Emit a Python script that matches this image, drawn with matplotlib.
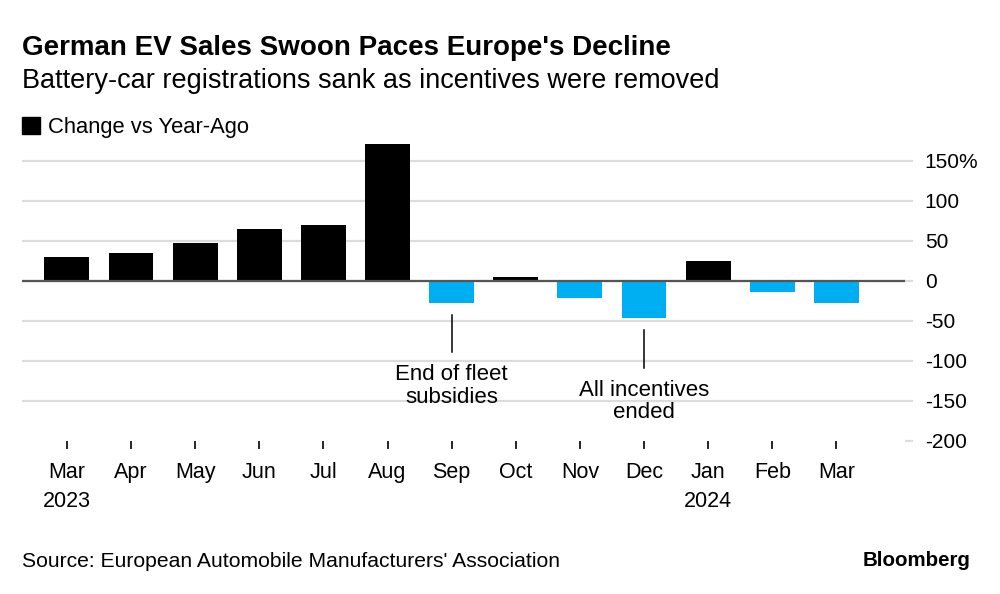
import matplotlib.pyplot as plt

plt.rcParams['font.family'] = ['Liberation Sans', 'DejaVu Sans']

# data
months = ['Mar\n2023', 'Apr', 'May', 'Jun', 'Jul', 'Aug', 'Sep', 'Oct',
          'Nov', 'Dec', 'Jan\n2024', 'Feb', 'Mar']
change = [29, 35, 47, 65, 69, 171, -27.5, 5, -22, -47, 24, -14.5, -28]
y_ticks = [-200, -150, -100, -50, 0, 50, 100, 150]
y_labels = ['-200', '-150', '-100', '-50', '0', '50', '100', '150%']

pos_color = '#000000'
neg_color = '#00aef2'
grid_color = '#dcdcdc'

fig = plt.figure(figsize=(10, 5.94), dpi=100)
ax = fig.add_axes([0.022, 0.2581, 0.883, 0.5118])

x = list(range(len(months)))
colors = [pos_color if v >= 0 else neg_color for v in change]
ax.bar(x, change, width=0.7, color=colors, zorder=3)

ax.set_xlim(-0.7, 13.07)
ax.set_ylim(-200, 180)

# grid + zero line
for t in y_ticks:
    if t == -200:
        continue
    ax.axhline(t, color=grid_color, lw=1.6, zorder=1)
ax.axhline(0, color='#555555', lw=1.6, zorder=4)

for s in ax.spines.values():
    s.set_visible(False)

ax.yaxis.tick_right()
ax.set_yticks(y_ticks)
ax.set_yticklabels(y_labels)
ax.tick_params(axis='y', length=5.8, direction='out', color=grid_color, width=1.6,
               pad=8.5, labelsize=15)
for lab in ax.get_yticklabels():
    lab.set_horizontalalignment('left')

ax.set_xticks(x)
ax.set_xticklabels(months, linespacing=1.5)
ax.tick_params(axis='x', length=6, width=1.2, color='black', pad=9, labelsize=15.5)

# annotations
ax.plot([6, 6], [-43, -89], color='black', lw=1.1, zorder=5)
ax.text(6, -132, 'End of fleet\nsubsidies', ha='center', va='center',
        fontsize=16, linespacing=1.12)
ax.plot([9, 9], [-62, -109], color='black', lw=1.1, zorder=5)
ax.text(9, -151, 'All incentives\nended', ha='center', va='center',
        fontsize=16, linespacing=1.12)

# header
fig.text(0.022, 0.919, "German EV Sales Swoon Paces Europe's Decline",
         fontsize=20, fontweight='bold', va='center')
fig.text(0.022, 0.864, 'Battery-car registrations sank as incentives were removed',
         fontsize=19.5, va='center')
fig.patches.append(plt.Rectangle((0.022, 0.774), 0.018, 0.0285,
                                 transform=fig.transFigure, color='black'))
fig.text(0.048, 0.786, 'Change vs Year-Ago', fontsize=15.8, va='center')

# footer
fig.text(0.022, 0.054, "Source: European Automobile Manufacturers' Association",
         fontsize=15.2, va='center')
fig.text(0.97, 0.057, 'Bloomberg', fontsize=14.8, fontweight='bold',
         ha='right', va='center')

fig.savefig('out.png', dpi=100)
